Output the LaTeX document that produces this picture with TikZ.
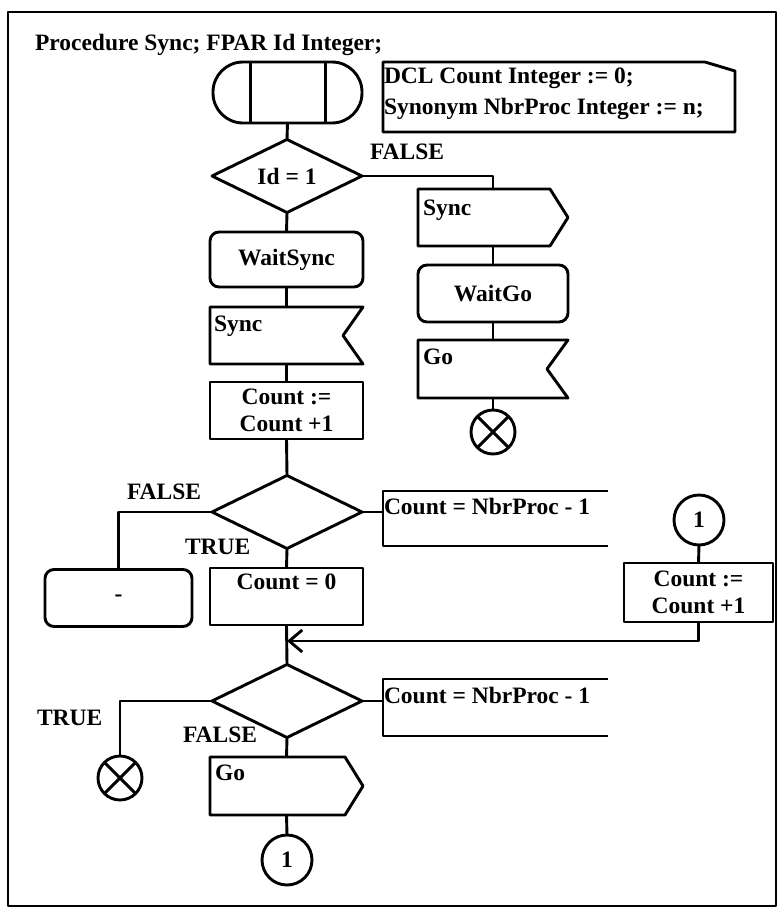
\documentclass[tikz,border=0pt]{standalone}
\usepackage{fontspec}
\setmainfont{Liberation Serif}
\usetikzlibrary{shapes.geometric, arrows.meta}
\begin{document}
\begin{tikzpicture}[x=1pt,y=-1pt, line width=2.9pt, line join=round,
  every node/.style={font=\bfseries\fontsize{23.5}{27}\selectfont, inner sep=0pt, outer sep=0pt},
  box/.style={draw, minimum width=153pt, minimum height=57pt},
  rbox/.style={box, rounded corners=9pt},
  ghost/.style={minimum width=150pt, minimum height=57pt},
  dec/.style={draw, diamond, aspect=2.08, minimum width=150pt, minimum height=73pt},
  lbl/.style={anchor=west},
  tl/.style={anchor=north west},
  stopsym/.style={draw, circle, minimum size=44pt},
  conn/.style={draw, circle, minimum size=50pt},
]
\useasboundingbox (0,0) rectangle (780,908);
\draw[line width=2pt] (8,12) rectangle (776,906);

\node[lbl] (title) at (35,45) {Procedure Sync; FPAR Id Integer;};

% start symbol
\node[draw, minimum width=149pt, minimum height=61pt, rounded corners=30pt] (start) at (287.5,92.5) {};
\draw ([xshift=-37pt]start.north) -- ([xshift=-37pt]start.south);
\draw ([xshift=38pt]start.north) -- ([xshift=38pt]start.south);

% text symbol
\node[minimum width=352pt, minimum height=70pt] (dcl) at (559,97) {};
\draw (dcl.north west) -- ([xshift=-30pt]dcl.north east) -- ([yshift=-9pt]dcl.north east) -- (dcl.south east) -- (dcl.south west) -- cycle;
\node[tl, align=left, font=\bfseries\fontsize{23.5}{31}\selectfont] (dcltext) at (384,68) {DCL Count Integer := 0;\\Synonym NbrProc Integer := n;};

% decision 1
\node[dec] (d1) at (287,176) {Id = 1};
\node[lbl] (falseA) at (370,152) {FALSE};

% right column
\node[ghost] (sig2) at (493,217.5) {};
\draw (sig2.north west) -- ([xshift=-18pt]sig2.north east) -- (sig2.east) -- ([xshift=-18pt]sig2.south east) -- (sig2.south west) -- cycle;
\node[tl] (sig2t) at (423,200) {Sync};
\node[rbox, minimum width=150pt] (waitgo) at (493,293.5) {WaitGo};
\node[ghost, minimum height=58pt] (go1) at (493,369) {};
\draw (go1.north west) -- (go1.north east) -- ([xshift=-21pt]go1.east) -- (go1.south east) -- (go1.south west) -- cycle;
\node[tl] (go1t) at (423,349) {Go};
\node[stopsym] (stopA) at (493,432) {};
\draw (stopA.north west) -- (stopA.south east);
\draw (stopA.north east) -- (stopA.south west);

% left column
\node[rbox, minimum height=55pt] (waitsync) at (286.5,259.5) {WaitSync};
\node[ghost, minimum width=153pt] (sig1) at (286.5,335.5) {};
\draw (sig1.north west) -- (sig1.north east) -- ([xshift=-20pt]sig1.east) -- (sig1.south east) -- (sig1.south west) -- cycle;
\node[tl] (sig1t) at (214,316) {Sync};
\node[box, align=center] (cnt1) at (286.5,410.5) {Count :=\\Count +1};

% decision 2
\node[dec] (d2) at (287,512) {};
\node[lbl] (falseB) at (127,492) {FALSE};
\node[lbl] (trueA) at (185,547) {TRUE};
\node[minimum width=225pt, minimum height=55pt] (com1) at (495.5,518.5) {};
\draw (com1.north east) -- (com1.north west) -- (com1.south west) -- (com1.south east);
\node[lbl] (com1t) at (384,506) {Count = NbrProc - 1};
\node[rbox, minimum width=147pt] (dashbox) at (118.5,598) {-};
\node[box] (cnt0) at (286.5,596.5) {};
\node[anchor=north] (cnt0t) at (286.5,574) {Count = 0};

% connector 1 in
\node[conn] (connA) at (699,520) {1};
\node[box, minimum width=149pt, minimum height=59pt, align=center] (cnt2) at (698.5,592.5) {Count :=\\Count +1};
\coordinate (merge) at (287,641);

% decision 3
\node[dec] (d3) at (287,701) {};
\node[lbl] (trueB) at (37,718) {TRUE};
\node[lbl] (falseC) at (183,735) {FALSE};
\node[minimum width=225pt, minimum height=57pt] (com2) at (495.5,707.5) {};
\draw (com2.north east) -- (com2.north west) -- (com2.south west) -- (com2.south east);
\node[lbl] (com2t) at (384,695) {Count = NbrProc - 1};
\node[stopsym] (stopB) at (120,778) {};
\draw (stopB.north west) -- (stopB.south east);
\draw (stopB.north east) -- (stopB.south west);
\node[ghost, minimum width=153pt, minimum height=58pt] (go2) at (286.5,786) {};
\draw (go2.north west) -- ([xshift=-18pt]go2.north east) -- (go2.east) -- ([xshift=-18pt]go2.south east) -- (go2.south west) -- cycle;
\node[tl] (go2t) at (215,765) {Go};
\node[conn] (connB) at (287,860) {1};

% connectors
\draw (start.south) -- (d1.north);
\draw (d1.east) -| (sig2.north);
\draw (sig2.south) -- (waitgo.north);
\draw (waitgo.south) -- (go1.north);
\draw (go1.south) -- (stopA.north);
\draw (d1.south) -- (waitsync.north);
\draw (waitsync.south) -- (sig1.north);
\draw (sig1.south) -- (cnt1.north);
\draw (cnt1.south) -- (d2.north);
\draw (d2.west) -| (dashbox.north);
\draw (d2.south) -- (cnt0.north);
\draw (d2.east) -- (d2.east -| com1.west);
\draw (cnt0.south) -- (d3.north);
\draw (connA.south) -- (cnt2.north);
\draw[-{Straight Barb[length=13pt, width=22pt]}] (cnt2.south) |- (merge);
\draw (d3.west) -| (stopB.north);
\draw (d3.east) -- (d3.east -| com2.west);
\draw (d3.south) -- (go2.north);
\draw (go2.south) -- (connB.north);
\end{tikzpicture}
\end{document}
